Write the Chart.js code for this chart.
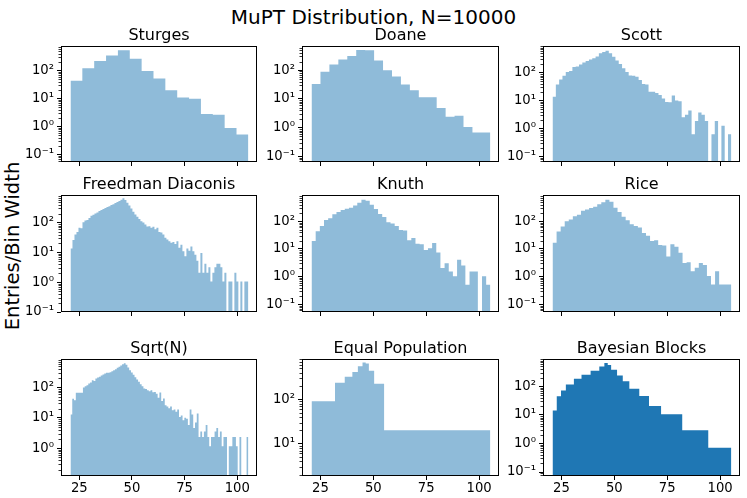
<!DOCTYPE html>
<html><head><meta charset="utf-8">
<script src="https://cdn.jsdelivr.net/npm/chart.js@4.4.1/dist/chart.umd.min.js"></script>
<style>
html,body{margin:0;padding:0;background:#fff;}
#fig{position:relative;width:747px;height:498px;overflow:hidden;background:#fff;font-family:"DejaVu Sans",sans-serif;color:#000;}
canvas{position:absolute;}
.sup{position:absolute;left:0;top:7px;width:747px;text-align:center;font-size:20px;line-height:20px;white-space:nowrap;}
.ylab{position:absolute;width:300px;height:24px;line-height:24px;font-size:19.5px;text-align:center;left:-137px;top:234px;transform:rotate(-90deg);white-space:nowrap;}
</style></head>
<body><div id="fig">
<div class="sup">MuPT Distribution, N=10000</div>
<div class="ylab">Entries/Bin Width</div>
</div>
<script>
// ---------------- data ----------------
const xRange = [20.8, 105.3];          // data extent of all histograms
const xTicks = [25, 50, 75, 100];
const yMajor = [0.1, 1, 10, 100, 1000];

const sturgesVals = [44, 121, 220, 350, 540, 265, 97, 52, 20, 11, 10, 2.84, 2.66, 0.89, 0.53];

const doaneVals = [33, 88, 157, 233, 310, 500, 490, 215, 100, 60, 32, 20, 11.5, 11.5, 4.9, 2.4, 2.6, 1.07, 0.69, 0.69];

const scottVals = [14, 38, 58, 78, 108, 117, 163, 170, 200, 235, 263, 300, 335, 383, 505, 560, 620, 505, 373, 277,
  207, 145, 108, 80, 79, 72, 55, 40, 38, 21, 21, 19, 16, 12.1, 9.0, 8.9, 15.3, 10.2, 9.6, 2.55,
  3.19, 4.47, 0.64, 1.91, 3.83, 3.19, 1.91, 0, 0.64, 1.91, 0, 1.28, 0, 0.64];

const fdVals = [13.5, 26, 40, 49, 67, 65, 104, 118, 122, 143,
  170, 185, 205, 220, 245, 265, 290, 310, 335, 360,
  390, 415, 455, 495, 535, 590, 660, 575, 470, 380,
  300, 233, 190, 158, 132, 112, 101, 87, 74, 76,
  67, 73, 60, 67, 49, 47, 40, 31, 27, 24,
  21, 22.5, 19.3, 24, 14.5, 18, 11, 7.4, 13.5, 11.5,
  16, 11, 8.4, 5.3, 2.1, 9.5, 2.1, 4.2, 2.1, 3.2,
  1.05, 2.1, 3.2, 4.2, 4.2, 3.2, 1.05, 2.1, 0, 1.05,
  1.05, 0, 2.1, 1.05, 0, 1.05, 0, 1.05, 1.05];

const knuthVals = [19.3, 44, 68, 112, 128, 178, 215, 254, 283, 308,
  373, 464, 594, 547, 394, 276, 183, 143, 92, 83,
  68, 48, 46, 20.4, 24.7, 15.5, 14.7, 9.2, 10.6, 16.4,
  7.4, 2.04, 3.05, 1.53, 1.02, 4.07, 2.54, 0.51, 1.53, 1.53,
  0, 1.02, 0.51];

const riceVals = [16.8, 43, 64.5, 100, 115, 151, 173, 240, 268, 299,
  334, 416, 490, 594, 504, 308, 215, 147, 109, 78,
  68, 59, 38, 30, 19.3, 20.4, 13.9, 13.2, 5.3, 14.7,
  12.1, 7.3, 3.1, 3.3, 1.56, 2.08, 3.1, 2.6, 1.04, 0.52,
  1.56, 0.52, 0.52, 0.52];

const sqrtVals = [13, 43, 38, 67, 67, 67, 67, 100, 110, 120,
  135, 146, 174, 165, 198, 214, 225, 250, 268, 290,
  305, 305, 320, 345, 372, 400, 445, 480, 530, 590,
  635, 560, 455, 372, 312, 262, 219, 183, 154, 129,
  111, 93, 90, 82, 76, 82, 70, 72, 63, 46,
  69, 36, 44, 26, 24, 21, 24, 18, 19, 16,
  19, 10.8, 12, 8.4, 10.2, 9.5, 5.9, 19, 13, 4.7,
  7.1, 14, 2.36, 3.55, 2.36, 3.55, 5.9, 2.36, 1.18, 2.36,
  2.36, 3.55, 4.7, 2.36, 3.55, 1.18, 2.36, 2.36, 0, 1.18,
  1.18, 2.36, 2.36, 1.18, 0, 2.36, 0, 0, 0, 2.36];

const eqPopEdges = [20.8, 31.9, 36.5, 40.1, 42.7, 44.9, 46.4, 47.9, 50.4, 55.1, 105.3];
const eqPopVals  = [90, 238, 325, 414, 555, 680, 640, 443, 226, 20];

const bbEdges = [20.8, 22.8, 24.8, 27.1, 30.9, 34.5, 38.8, 42.9, 45.3, 46.9, 48.5, 51.3, 54.0, 57.1, 61.8, 66.4, 72.1, 82.1, 94.4, 105.3];
const bbVals  = [14.4, 45, 72, 117, 186, 256, 354, 500, 657, 558, 383, 243, 150, 83, 46, 20.5, 10.5, 2.9, 0.71];

// ---------------- layout / style ----------------
Chart.defaults.font.family = '"DejaVu Sans", sans-serif';
Chart.defaults.color = '#000';

const LIGHT = 'rgb(143,187,217)';
const DARK = 'rgb(31,119,180)';
const xAxisRange = [16.3, 109.4];
const COLS = [[61, 257], [302, 499], [543, 740]];
const ROWS = [[46, 162], [195, 312], [359, 476]];
const AXW = 46, TITLEH = 20, XAXH = 26, RP = 4;

const panels = [
  {title: 'Sturges', vals: sturgesVals, row: 0, col: 0, yLog: [-1.26, 2.88], color: LIGHT},
  {title: 'Doane', vals: doaneVals, row: 0, col: 1, yLog: [-1.19, 2.84], color: LIGHT},
  {title: 'Scott', vals: scottVals, row: 0, col: 2, yLog: [-1.19, 2.96], color: LIGHT},
  {title: 'Freedman Diaconis', vals: fdVals, row: 1, col: 0, yLog: [-1.0, 2.93], color: LIGHT},
  {title: 'Knuth', vals: knuthVals, row: 1, col: 1, yLog: [-1.28, 2.95], color: LIGHT},
  {title: 'Rice', vals: riceVals, row: 1, col: 2, yLog: [-1.28, 2.95], color: LIGHT},
  {title: 'Sqrt(N)', vals: sqrtVals, row: 2, col: 0, yLog: [-0.91, 2.94], color: LIGHT},
  {title: 'Equal Population', vals: eqPopVals, edges: eqPopEdges, row: 2, col: 1, yLog: [0.27, 2.91], color: LIGHT},
  {title: 'Bayesian Blocks', vals: bbVals, edges: bbEdges, row: 2, col: 2, yLog: [-1.14, 2.96], color: DARK}
];

function uniformEdges(n) {
  const s = (xRange[1] - xRange[0]) / n, e = [];
  for (let i = 0; i <= n; i++) e.push(xRange[0] + i * s);
  return e;
}
const SUP = {'-': '\u207B', '0': '\u2070', '1': '\u00B9', '2': '\u00B2', '3': '\u00B3'};
function logLabel(v) {
  const e = Math.round(Math.log10(v));
  return '10' + String(e).split('').map(c => SUP[c]).join('');
}

const framePlugin = {
  id: 'frame',
  afterDraw(chart) {
    const {ctx, chartArea: a, scales} = chart;
    const ys = scales.y;
    ctx.save();
    ctx.strokeStyle = '#000';
    ctx.lineWidth = 0.8;
    ctx.beginPath();
    const lo = Math.floor(Math.log10(ys.min)), hi = Math.ceil(Math.log10(ys.max));
    for (let k = lo; k <= hi; k++) {
      for (let m = 2; m <= 9; m++) {
        const v = m * Math.pow(10, k);
        if (v < ys.min || v > ys.max) continue;
        const y = Math.round(ys.getPixelForValue(v)) + 0.5;
        ctx.moveTo(a.left, y);
        ctx.lineTo(a.left - 2.5, y);
      }
    }
    ctx.stroke();
    ctx.lineWidth = 1;
    ctx.strokeRect(a.left + 0.5, a.top + 0.5, a.right - a.left - 1, a.bottom - a.top - 1);
    ctx.restore();
  }
};

const fig = document.getElementById('fig');

function makePanel(p) {
  const [l, r] = COLS[p.col], [t, b] = ROWS[p.row];
  const W = AXW + (r - l) + RP, H = TITLEH + (b - t) + XAXH;
  const cv = document.createElement('canvas');
  cv.width = W; cv.height = H;
  cv.style.left = (l - AXW) + 'px'; cv.style.top = (t - TITLEH) + 'px';
  cv.style.width = W + 'px'; cv.style.height = H + 'px';
  fig.appendChild(cv);
  const ymin = Math.pow(10, p.yLog[0]), ymax = Math.pow(10, p.yLog[1]);
  const edges = p.edges || uniformEdges(p.vals.length);
  const pts = p.vals.map((v, i) => ({x: edges[i], y: v > 0 ? v : ymin}));
  pts.push({x: edges[edges.length - 1], y: pts[pts.length - 1].y});
  new Chart(cv, {
    type: 'line',
    data: {datasets: [{
      data: pts, stepped: 'before', fill: 'start',
      backgroundColor: p.color, borderColor: 'rgba(0,0,0,0)', borderWidth: 0,
      pointRadius: 0, pointHoverRadius: 0, tension: 0
    }]},
    options: {
      responsive: false, animation: false, events: [],
      layout: {padding: {left: 0, right: RP, top: 0, bottom: 0}},
      plugins: {
        legend: {display: false}, tooltip: {enabled: false},
        title: {display: true, text: p.title, fullSize: false, padding: 0, color: '#000',
                font: {size: 16, weight: 'normal', lineHeight: '20px'}}
      },
      scales: {
        x: {
          type: 'linear', min: xAxisRange[0], max: xAxisRange[1], bounds: 'data',
          afterBuildTicks: s => { s.ticks = xTicks.map(v => ({value: v})); },
          afterFit: s => { s.height = XAXH; s.paddingLeft = 0; s.paddingRight = 0; },
          grid: {drawOnChartArea: false, drawTicks: true, tickLength: 4, tickColor: '#000', tickWidth: 1},
          border: {display: false},
          ticks: {display: p.row === 2, font: {size: 13.2}, padding: 1, maxRotation: 0, autoSkip: false, color: '#000'}
        },
        y: {
          type: 'logarithmic', min: ymin, max: ymax, bounds: 'data',
          afterBuildTicks: s => { s.ticks = yMajor.filter(v => v >= ymin && v <= ymax).map(v => ({value: v})); },
          afterFit: s => { s.width = AXW; s.paddingTop = 0; s.paddingBottom = 0; },
          grid: {drawOnChartArea: false, drawTicks: true, tickLength: 4, tickColor: '#000', tickWidth: 1},
          border: {display: false},
          ticks: {font: {size: 13.2}, padding: 3, autoSkip: false, color: '#000', callback: v => logLabel(v)}
        }
      }
    },
    plugins: [framePlugin]
  });
}

panels.forEach(makePanel);
</script>
</body></html>
